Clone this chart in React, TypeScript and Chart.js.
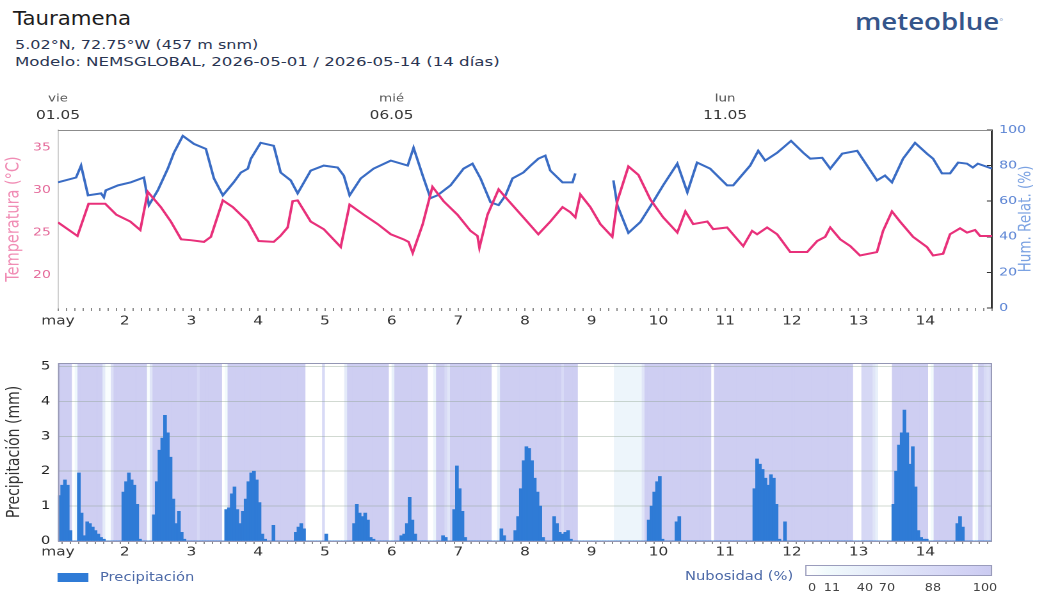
import React, { useEffect, useRef } from 'react';
import { Chart, registerables } from 'chart.js';

Chart.register(...registerables);

// ---------- DATA ----------
const dayTickLabels = ['may', '2', '3', '4', '5', '6', '7', '8', '9', '10', '11', '12', '13', '14'];
const headerHours = [0, 120, 240];
const headerDates = ['01.05', '06.05', '11.05'];
const headerWeekdays = ['vie', 'mié', 'lun'];
const tempTicks = [20, 25, 30, 35];
const humTicks = [0, 20, 40, 60, 80, 100];
const precipTicks = [0, 1, 2, 3, 4, 5];
const cloudLegendLabels = ['0', '11', '40', '70', '88', '100'];

// [hour since 01.05 00:00, °C]
const temperature: [number, number][] = [
  [0, 26.2], [7, 24.6], [11, 28.4], [17, 28.4], [21, 27.1], [26, 26.3], [29.6, 25.3], [32.3, 29.8],
  [37, 28.0], [40.6, 26.3], [44.3, 24.2], [47.8, 24.1], [52.5, 23.9], [55, 24.5], [59.3, 28.8],
  [62.9, 28.0], [68.3, 26.3], [72.2, 24.0], [77.6, 23.9], [80, 24.6], [82.6, 25.6], [84.4, 28.7],
  [86.2, 28.8], [90.9, 26.3], [95.6, 25.4], [101.7, 23.3], [104.9, 28.3], [110, 27.1], [115, 26.0],
  [119.7, 24.8], [124.3, 24.2], [126.1, 23.9], [127.6, 22.6], [131.2, 26.0], [134.7, 30.4],
  [138.7, 28.7], [143.7, 27.1], [148.4, 25.2], [150.9, 24.6], [151.6, 23.2], [154.5, 27.1],
  [158.5, 30.1], [161.7, 28.9], [167.4, 26.8], [172.8, 24.8], [177.1, 26.3], [181.5, 28.0],
  [184.3, 27.4], [186.1, 26.8], [187.9, 29.5], [191.5, 28.0], [195.1, 26.0], [199.4, 24.5],
  [201.2, 28.7], [205.2, 32.8], [208.8, 31.8], [213.1, 28.9], [217.7, 26.8], [222.8, 25.0],
  [225.7, 27.5], [228.5, 26.0], [233.6, 26.3], [235.7, 25.4], [240.7, 25.6], [246.5, 23.4],
  [249.7, 25.2], [251.5, 24.8], [255.1, 25.6], [258.7, 24.8], [263.4, 22.7], [269.5, 22.7],
  [273.1, 24.0], [276, 24.5], [277.8, 25.6], [281.4, 24.2], [285, 23.4], [288.5, 22.3],
  [294.6, 22.7], [296.8, 25.2], [300, 27.5], [302.9, 26.3], [307.6, 24.5], [312.6, 23.3],
  [314.8, 22.3], [318.4, 22.5], [320.9, 24.8], [324.5, 25.5], [327, 25.0], [329.9, 25.3],
  [331.7, 24.6], [336, 24.6],
];

// [hour, %]  (null = no data)
const humidity: [number, number | null][] = [
  [0, 70.6], [6.5, 73.3], [8.3, 80], [10.8, 63.3], [15.5, 64.4], [16.5, 62.2], [17.2, 66.1],
  [21.6, 68.9], [26.2, 70.6], [30.9, 73.3], [32.7, 57.8], [35.9, 66.1], [39.5, 78.3], [41.7, 87.2],
  [44.9, 96.7], [48.9, 92.2], [53.2, 89.4], [56.1, 72.8], [59.3, 63.3], [63.2, 70.6], [65.8, 76.1],
  [68.3, 78.3], [69.4, 83.9], [72.9, 92.8], [77.6, 91.1], [80.1, 76.1], [83.7, 71.7], [86.2, 64.4],
  [90.9, 77.2], [95.6, 80], [100.6, 78.9], [102.8, 74.4], [104.9, 63.3], [108.9, 72.8],
  [113.5, 78.3], [119.7, 82.8], [125.8, 80], [127.9, 90], [131.2, 74.4], [134.0, 61.7],
  [136.5, 63.3], [141.2, 68.9], [145.9, 78.3], [149.1, 81.1], [152.0, 72.8], [155.6, 59.4],
  [158.5, 57.8], [161.0, 63.3], [163.5, 72.8], [167.4, 76.1], [170, 80], [172.8, 83.9],
  [175.3, 85.6], [177.1, 77.2], [181.5, 70.6], [185.1, 70.6], [186.1, 75.6], [193, null],
  [199.8, 71.7], [201.2, 57.8], [205.2, 42.2], [209.5, 48.3], [213.8, 58.9], [217.7, 68.9],
  [222.8, 81.1], [226.4, 65], [229.9, 81.7], [234.6, 78.3], [240.7, 68.9], [242.9, 68.9],
  [249.0, 80], [251.9, 88.3], [254.4, 82.8], [258.7, 87.2], [263.7, 93.9], [268.1, 87.2],
  [270.6, 83.9], [274.9, 84.4], [277.8, 78.3], [282.1, 86.7], [287.5, 88.3], [294.6, 71.7],
  [297.5, 74.4], [300.0, 70.6], [304.0, 83.9], [308.3, 92.8], [312.6, 86.7], [314.8, 83.9],
  [318.0, 75.6], [320.9, 75.6], [323.8, 81.7], [327.0, 81.1], [329.1, 78.9], [330.9, 81.1],
  [336, 78.3],
];

// hourly precipitation (mm), one row per day
const precipitationByDay: number[][] = [
  [1.3, 1.6, 1.75, 1.6, 0.3, 0, 0, 1.95, 0.8, 0.15, 0.55, 0.5, 0.4, 0.3, 0.2, 0.1, 0.05, 0, 0, 0, 0, 0, 0, 1.4],
  [1.7, 1.95, 1.75, 1.6, 1.05, 0.05, 0, 0, 0, 0, 0.75, 1.7, 2.6, 2.95, 3.6, 3.1, 2.4, 1.2, 0.5, 0.85, 0.25, 0.05, 0, 0],
  [0, 0, 0, 0, 0, 0, 0, 0, 0, 0, 0, 0, 0.9, 0.95, 1.35, 1.55, 0.9, 0.5, 0.85, 1.2, 1.7, 1.95, 2.0, 1.75],
  [1.1, 0.2, 0.05, 0, 0, 0.45, 0, 0, 0, 0, 0, 0, 0, 0.25, 0.4, 0.5, 0.35, 0, 0, 0, 0, 0, 0, 0],
  [0.2, 0, 0, 0, 0, 0, 0, 0, 0, 0, 0.5, 1.05, 0.8, 0.7, 0.8, 0.6, 0.1, 0.05, 0, 0, 0, 0, 0, 0],
  [0, 0, 0, 0.15, 0.2, 0.5, 1.25, 0.6, 0.2, 0, 0, 0, 0, 0, 0, 0, 0, 0, 0.15, 0.1, 0, 0, 0.9, 2.15],
  [1.5, 0.85, 0.1, 0, 0, 0, 0, 0, 0, 0, 0, 0, 0, 0, 0, 0.35, 0.15, 0, 0, 0, 0.3, 0.7, 1.5, 2.3],
  [2.7, 2.65, 2.3, 1.8, 1.4, 1.0, 0.1, 0, 0, 0, 0.7, 0.5, 0.25, 0.2, 0.25, 0.3, 0.05, 0, 0, 0, 0, 0, 0, 0],
  [0, 0, 0, 0, 0, 0, 0, 0, 0, 0, 0, 0, 0, 0, 0, 0, 0, 0, 0, 0, 0.6, 1.0, 1.4, 1.7],
  [1.85, 0.05, 0, 0, 0, 0, 0.55, 0.7, 0, 0, 0, 0, 0, 0, 0, 0, 0, 0, 0, 0, 0, 0, 0, 0],
  [0, 0, 0, 0, 0, 0, 0, 0, 0, 0, 1.5, 2.35, 2.2, 2.05, 1.8, 1.6, 1.9, 1.8, 1.05, 0.05, 0, 0.55, 0, 0],
  [0, 0, 0, 0, 0, 0, 0, 0, 0, 0, 0, 0, 0, 0, 0, 0, 0, 0, 0, 0, 0, 0, 0, 0],
  [0, 0, 0, 0, 0, 0, 0, 0, 0, 0, 0, 0, 1.05, 2.0, 2.75, 3.1, 3.75, 3.1, 2.2, 2.7, 1.55, 0.3, 0.1, 0.05],
  [0.05, 0, 0, 0, 0, 0, 0, 0, 0, 0, 0, 0.5, 0.7, 0.4, 0, 0, 0, 0, 0, 0, 0, 0, 0, 0],
];

// hourly cloud cover (%), one row per day
const cloudByDay: number[][] = [
  [95, 95, 95, 95, 95, 0, 15, 95, 95, 95, 95, 95, 95, 95, 95, 95, 40, 5, 5, 60, 95, 95, 95, 95],
  [95, 95, 95, 95, 95, 95, 95, 95, 5, 50, 95, 95, 95, 95, 95, 95, 95, 95, 95, 95, 95, 95, 95, 95],
  [95, 95, 75, 95, 95, 95, 95, 95, 95, 95, 95, 0, 10, 95, 95, 95, 95, 95, 95, 95, 95, 95, 95, 95],
  [95, 95, 95, 95, 95, 95, 95, 95, 95, 95, 95, 95, 95, 95, 95, 95, 95, 0, 0, 0, 0, 0, 0, 70],
  [0, 0, 0, 0, 0, 0, 0, 40, 95, 95, 95, 95, 95, 95, 95, 95, 95, 95, 95, 95, 95, 95, 95, 0],
  [30, 95, 95, 95, 95, 95, 95, 95, 95, 95, 95, 95, 95, 0, 0, 20, 95, 95, 95, 70, 50, 95, 95, 95],
  [95, 95, 95, 95, 95, 95, 95, 95, 95, 95, 95, 95, 0, 0, 30, 95, 95, 95, 95, 95, 95, 95, 95, 95],
  [95, 95, 95, 95, 95, 95, 95, 95, 95, 95, 95, 95, 95, 70, 95, 95, 95, 95, 95, 0, 0, 0, 0, 0],
  [0, 0, 0, 0, 0, 0, 0, 0, 20, 20, 20, 20, 20, 20, 20, 20, 20, 20, 50, 95, 95, 95, 95, 95],
  [95, 95, 95, 95, 95, 95, 95, 95, 95, 95, 95, 95, 95, 95, 95, 95, 95, 95, 95, 0, 95, 95, 95, 95],
  [95, 95, 95, 95, 95, 95, 95, 95, 95, 95, 95, 95, 95, 95, 95, 95, 95, 95, 95, 95, 95, 95, 95, 95],
  [95, 95, 95, 95, 95, 95, 95, 95, 95, 95, 95, 95, 95, 95, 95, 95, 95, 95, 95, 95, 95, 95, 0, 0],
  [0, 75, 75, 75, 75, 50, 30, 0, 0, 0, 0, 0, 95, 95, 95, 95, 95, 95, 95, 95, 95, 95, 95, 95],
  [95, 0, 10, 95, 95, 95, 95, 95, 95, 95, 95, 95, 95, 95, 95, 95, 95, 0, 10, 95, 95, 70, 60, 70],
];

// ---------- LAYOUT / STYLE ----------
const FONT = "'DejaVu Sans', 'Liberation Sans', sans-serif";
const W = 814; // unstretched width
const S = 1042 / W; // horizontal stretch of the whole figure
const HOURS = 336;
const TEMP_COLOR = '#e8307a';
const HUM_COLOR = '#3a6cc4';
const BAR_COLOR = '#2f7bd6';

const cloudStops: [number, number[]][] = [
  [0, [255, 255, 255]],
  [11, [241, 250, 252]],
  [40, [228, 234, 249]],
  [70, [216, 218, 246]],
  [88, [209, 209, 244]],
  [100, [203, 203, 241]],
];
function cloudColor(c: number): string {
  for (let i = 1; i < cloudStops.length; i++) {
    const [v1, c1] = cloudStops[i];
    const [v0, c0] = cloudStops[i - 1];
    if (c <= v1) {
      const t = (c - v0) / (v1 - v0);
      const m = c0.map((a, k) => Math.round(a + (c1[k] - a) * t));
      return `rgb(${m[0]},${m[1]},${m[2]})`;
    }
  }
  const l = cloudStops[cloudStops.length - 1][1];
  return `rgb(${l[0]},${l[1]},${l[2]})`;
}

const dayLabel = (v: number) => {
  const n = Number(v);
  if (n % 24 !== 0 || n >= HOURS) return '';
  return dayTickLabels[n / 24];
};

const hourTicks = {
  stepSize: 3,
  autoSkip: false,
  maxRotation: 0,
  color: '#333',
  font: { family: FONT, size: 12 },
  callback: (v: any) => dayLabel(v),
};

export default function App() {
  const topRef = useRef<HTMLCanvasElement>(null);
  const botRef = useRef<HTMLCanvasElement>(null);

  useEffect(() => {
    Chart.defaults.font.family = FONT;

    // right-hand title (reads bottom-to-top) and the date header above the plot
    const topDecorPlugin = {
      id: 'topDecor',
      afterDraw(chart: any) {
        const { ctx, chartArea } = chart;
        const xs = chart.scales.x;
        ctx.save();
        // top frame line
        ctx.strokeStyle = '#8c8c8c';
        ctx.lineWidth = 1;
        ctx.beginPath();
        ctx.moveTo(chartArea.left, chartArea.top + 0.5);
        ctx.lineTo(chartArea.right, chartArea.top + 0.5);
        ctx.stroke();
        // date header
        ctx.textAlign = 'center';
        ctx.textBaseline = 'middle';
        headerHours.forEach((h, i) => {
          const x = xs.getPixelForValue(h);
          ctx.font = `10.5px ${FONT}`;
          ctx.fillStyle = '#555';
          ctx.fillText(headerWeekdays[i], x, chartArea.top - 31);
          ctx.font = `12px ${FONT}`;
          ctx.fillStyle = '#333';
          ctx.fillText(headerDates[i], x, chartArea.top - 14);
        });
        // right title
        ctx.translate(1026 / S, (chartArea.top + chartArea.bottom) / 2);
        ctx.rotate(-Math.PI / 2);
        ctx.font = `13.5px ${FONT}`;
        ctx.fillStyle = '#7ba2e2';
        ctx.fillText('Hum. Relat. (%)', 0, 0);
        ctx.restore();
      },
    };

    const top = new Chart(topRef.current as HTMLCanvasElement, {
      type: 'line',
      data: {
        datasets: [
          {
            label: 'Temperatura',
            data: temperature.map(([x, y]) => ({ x, y })),
            xAxisID: 'x',
            yAxisID: 'yT',
            borderColor: TEMP_COLOR,
            borderWidth: 2,
            pointRadius: 0,
            tension: 0,
          },
          {
            label: 'Humedad',
            data: humidity.map(([x, y]) => ({ x, y })),
            xAxisID: 'x',
            yAxisID: 'yH',
            borderColor: HUM_COLOR,
            borderWidth: 2,
            pointRadius: 0,
            tension: 0,
            spanGaps: false,
          },
        ],
      },
      options: {
        animation: false,
        responsive: false,
        devicePixelRatio: 2,
        events: [],
        layout: { padding: { top: 45, left: 0, right: 0, bottom: 0 } },
        plugins: { legend: { display: false }, tooltip: { enabled: false } },
        scales: {
          x: {
            type: 'linear',
            position: 'bottom',
            min: 0,
            max: HOURS,
            afterFit: (s: any) => { s.height = 22; },
            ticks: { ...hourTicks, padding: 3 },
            grid: { drawOnChartArea: false, tickLength: 3, color: '#8a8a8a' },
            border: { display: false },
          },
          yT: {
            type: 'linear',
            position: 'left',
            min: 16.1,
            max: 37.1,
            afterBuildTicks: (s: any) => { s.ticks = tempTicks.map((v) => ({ value: v })); },
            afterFit: (s: any) => { s.width = 58 / S; },
            ticks: { color: '#e46a9a', font: { family: FONT, size: 11 }, padding: 5.5 },
            grid: { drawOnChartArea: false, drawTicks: false },
            border: { display: true, color: '#cfcfcf' },
            title: {
              display: true,
              text: 'Temperatura (°C)',
              color: '#f08cb4',
              font: { family: FONT, size: 14.5 },
              padding: { top: 2, bottom: 0 },
            },
          },
          yH: {
            type: 'linear',
            position: 'right',
            min: 0,
            max: 100,
            afterBuildTicks: (s: any) => { s.ticks = humTicks.map((v) => ({ value: v })); },
            afterFit: (s: any) => { s.width = 50 / S; },
            ticks: { color: '#5b84d4', font: { family: FONT, size: 11 }, padding: 9.5 },
            grid: { drawOnChartArea: false, drawTicks: true, tickLength: -4, color: '#333' },
            border: { display: true, color: '#333', width: 1.5 },
          },
        },
      } as any,
      plugins: [topDecorPlugin],
    });

    const cloudPlugin = {
      id: 'cloudBg',
      beforeDraw(chart: any) {
        const { ctx, chartArea } = chart;
        const xs = chart.scales.x;
        const cloud = cloudByDay.flat();
        ctx.save();
        ctx.beginPath();
        ctx.rect(chartArea.left, chartArea.top, chartArea.right - chartArea.left, chartArea.bottom - chartArea.top);
        ctx.clip();
        cloud.forEach((c, i) => {
          const x0 = xs.getPixelForValue(i);
          const x1 = xs.getPixelForValue(i + 1);
          ctx.fillStyle = cloudColor(c);
          ctx.fillRect(x0, chartArea.top, x1 - x0 + 0.5, chartArea.bottom - chartArea.top);
        });
        ctx.restore();
      },
      afterDatasetsDraw(chart: any) {
        const { ctx, chartArea } = chart;
        ctx.save();
        ctx.strokeStyle = '#9496b4';
        ctx.lineWidth = 1;
        ctx.strokeRect(chartArea.left + 0.5, chartArea.top + 0.5, chartArea.right - chartArea.left - 1, chartArea.bottom - chartArea.top);
        ctx.restore();
      },
    };

    const precip = precipitationByDay.flat();
    const bottom = new Chart(botRef.current as HTMLCanvasElement, {
      type: 'bar',
      data: {
        datasets: [
          {
            label: 'Precipitación',
            data: precip.map((v, i) => ({ x: i + 0.5, y: v })),
            backgroundColor: BAR_COLOR,
            borderWidth: 0,
            barPercentage: 1,
            categoryPercentage: 1,
          },
        ],
      },
      options: {
        animation: false,
        responsive: false,
        devicePixelRatio: 2,
        events: [],
        layout: { padding: { top: 23, right: 50 / S, left: 0, bottom: 0 } },
        plugins: { legend: { display: false }, tooltip: { enabled: false } },
        scales: {
          x: {
            type: 'linear',
            min: 0,
            max: HOURS,
            offset: false,
            afterFit: (s: any) => { s.height = 21; },
            ticks: { ...hourTicks, padding: 1 },
            grid: { drawOnChartArea: false, tickLength: 3, color: '#8a8a8a' },
            border: { display: false },
          },
          y: {
            min: 0,
            max: 5.1,
            afterBuildTicks: (s: any) => { s.ticks = precipTicks.map((v) => ({ value: v })); },
            afterFit: (s: any) => { s.width = 58 / S; },
            ticks: { color: '#222', font: { family: FONT, size: 11.5 }, padding: 6 },
            grid: { color: 'rgba(140,160,140,0.4)', drawTicks: false },
            border: { display: false },
            title: {
              display: true,
              text: 'Precipitación (mm)',
              color: '#333',
              font: { family: FONT, size: 14 },
              padding: { top: 3, bottom: 0 },
            },
          },
        },
      } as any,
      plugins: [cloudPlugin],
    });

    return () => {
      top.destroy();
      bottom.destroy();
    };
  }, []);

  const legendText: React.CSSProperties = {
    position: 'absolute',
    fontFamily: FONT,
    fontSize: 11.5,
    lineHeight: '14px',
    color: '#4d6aa8',
    whiteSpace: 'nowrap',
  };
  const cbPositions = [812, 832, 865, 887, 933, 985];
  const gradient = `linear-gradient(to right, ${cloudStops
    .map(([v]) => `${cloudColor(v)} ${v}%`)
    .join(', ')})`;

  return (
    <div
      style={{
        position: 'fixed',
        left: 0,
        top: 0,
        width: 1042,
        height: 592,
        background: '#fff',
        overflow: 'hidden',
      }}
    >
      {/* header */}
      <div
        style={{
          position: 'absolute', left: 13, top: 9, fontFamily: FONT, fontSize: 19, lineHeight: '19px',
          color: '#1c1c1c', transform: 'scaleX(1.12)', transformOrigin: '0 0', whiteSpace: 'nowrap',
        }}
      >
        Tauramena
      </div>
      <div
        style={{
          position: 'absolute', left: 15, top: 38, fontFamily: FONT, fontSize: 12.5, lineHeight: '13px',
          color: '#2a3552', transform: `scaleX(${S})`, transformOrigin: '0 0', whiteSpace: 'nowrap',
        }}
      >
        5.02°N, 72.75°W (457 m snm)
      </div>
      <div
        style={{
          position: 'absolute', left: 15, top: 55, fontFamily: FONT, fontSize: 13, lineHeight: '13px',
          color: '#2a3552', transform: `scaleX(${S})`, transformOrigin: '0 0', whiteSpace: 'nowrap',
        }}
      >
        Modelo: NEMSGLOBAL, 2026-05-01 / 2026-05-14 (14 días)
      </div>
      <div
        style={{
          position: 'absolute', left: 855, top: 9, fontFamily: "'Open Sans', 'DejaVu Sans', sans-serif",
          fontSize: 24, fontWeight: 600, lineHeight: '24px', color: '#34558a', transform: 'scaleX(1.15)',
          transformOrigin: '0 0', whiteSpace: 'nowrap',
        }}
      >
        meteoblue<span style={{ fontSize: 8, verticalAlign: 'top', color: '#8899bb', fontWeight: 'normal' }}>°</span>
      </div>

      {/* stretched figure */}
      <div
        style={{
          position: 'absolute', left: 0, top: 0, width: W, height: 592,
          transform: `scaleX(${S})`, transformOrigin: '0 0',
        }}
      >
        <canvas ref={topRef} width={W} height={245} style={{ position: 'absolute', left: 0, top: 85, display: 'block' }} />
        <canvas ref={botRef} width={W} height={222} style={{ position: 'absolute', left: 0, top: 340, display: 'block' }} />

        {/* precipitation legend */}
        <div style={{ position: 'absolute', left: 57 / S, top: 573, width: 31 / S, height: 9, background: BAR_COLOR }} />
        <div style={{ ...legendText, left: 100 / S, top: 570 }}>Precipitación</div>

        {/* cloud legend */}
        <div style={{ ...legendText, left: 685 / S, top: 569 }}>Nubosidad (%)</div>
        <div
          style={{
            position: 'absolute', left: 805 / S, top: 565, width: 187 / S, height: 11,
            border: '1px solid #9a9cbc', background: gradient, boxSizing: 'border-box',
          }}
        />
        {cloudLegendLabels.map((t, i) => (
          <div
            key={t}
            style={{
              position: 'absolute', left: cbPositions[i] / S - 20, width: 40, top: 582, textAlign: 'center',
              fontFamily: FONT, fontSize: 10, lineHeight: '12px', color: '#444',
            }}
          >
            {t}
          </div>
        ))}
      </div>
    </div>
  );
}
